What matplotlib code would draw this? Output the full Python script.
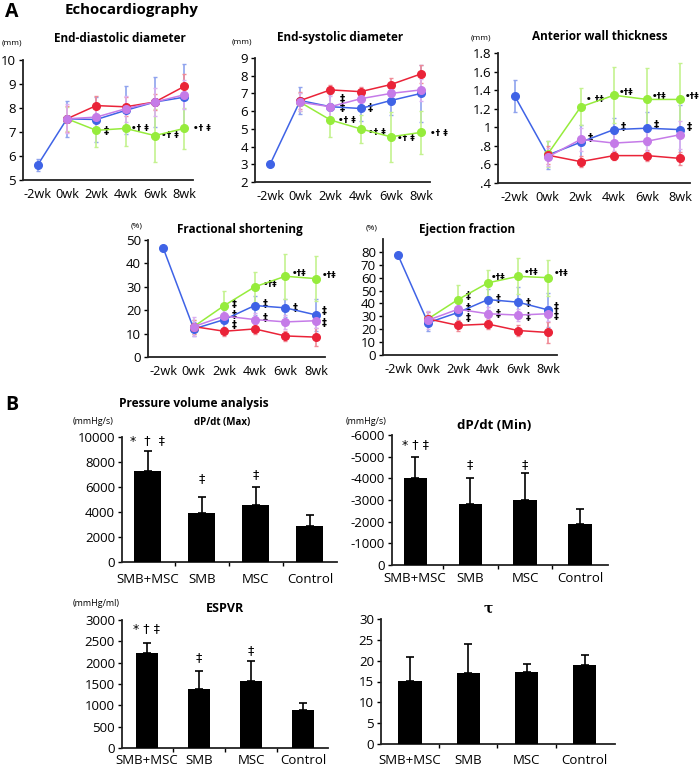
import matplotlib
matplotlib.use("Agg")
import matplotlib.pyplot as plt
import numpy as np

plt.rcParams['font.family'] = ['Open Sans', 'DejaVu Sans']

weeks = ["-2wk", "0wk", "2wk", "4wk", "6wk", "8wk"]
groups = ["SMB+MSC", "SMB", "MSC", "Control"]

# Echo series: blue, red, pink, green (None = no point)
edd_blue = [5.62, 7.55, 7.52, 7.9, 8.25, 8.45]
edd_blue_err = [0.25, 0.75, 0.95, 1.0, 1.05, 1.4]
edd_red = [None, 7.55, 8.1, 8.05, 8.25, 8.9]
edd_red_err = [0, 0.55, 0.4, 0.4, 0.35, 0.5]
edd_pink = [None, 7.55, 7.62, 7.97, 8.25, 8.55]
edd_pink_err = [0, 0.6, 0.6, 0.55, 0.6, 0.6]
edd_green = [None, 7.55, 7.07, 7.15, 6.85, 7.15]
edd_green_err = [0, 0.5, 0.7, 0.75, 1.1, 0.85]

esd_blue = [3.0, 6.6, 6.25, 6.15, 6.6, 7.0]
esd_blue_err = [0, 0.75, 0.7, 0.7, 0.8, 1.6]
esd_red = [None, 6.6, 7.2, 7.1, 7.5, 8.1]
esd_red_err = [0, 0.5, 0.25, 0.25, 0.35, 0.5]
esd_pink = [None, 6.5, 6.25, 6.7, 7.0, 7.2]
esd_pink_err = [0, 0.5, 0.6, 0.55, 0.6, 0.6]
esd_green = [None, 6.5, 5.5, 5.0, 4.55, 4.8]
esd_green_err = [0, 0.5, 0.95, 0.8, 1.4, 1.2]

awt_blue = [1.34, 0.70, 0.84, 0.975, 0.99, 0.975]
awt_blue_err = [0.17, 0.15, 0.19, 0.12, 0.18, 0.27]
awt_red = [None, 0.70, 0.63, 0.695, 0.695, 0.665]
awt_red_err = [0, 0.1, 0.06, 0.05, 0.06, 0.07]
awt_pink = [None, 0.68, 0.87, 0.83, 0.85, 0.92]
awt_pink_err = [0, 0.1, 0.12, 0.1, 0.1, 0.15]
awt_green = [None, 0.71, 1.22, 1.345, 1.30, 1.30]
awt_green_err = [0, 0.14, 0.2, 0.3, 0.34, 0.39]

fs_blue = [46.5, 12, 16, 22, 21, 18]
fs_blue_err = [0, 3, 4, 4, 4, 7]
fs_red = [None, 13, 11, 12, 9, 8.5]
fs_red_err = [0, 3, 2, 2, 2, 4]
fs_pink = [None, 13, 17.5, 16, 15, 15.5]
fs_pink_err = [0, 4, 3, 3, 3, 3]
fs_green = [None, 13, 22, 30, 34.5, 33.5]
fs_green_err = [0, 3, 6, 6.5, 9.5, 9.5]

ef_blue = [77.5, 25, 33, 43, 41, 35]
ef_blue_err = [0, 6, 7, 8, 12, 13]
ef_red = [None, 28, 23, 24, 19, 17.5]
ef_red_err = [0, 5, 4, 4, 4, 8]
ef_pink = [None, 27, 35.5, 32, 31, 32]
ef_pink_err = [0, 7, 5, 5, 5, 6]
ef_green = [None, 28, 43, 56, 61, 60]
ef_green_err = [0, 5, 11, 10, 14, 14]

# Pressure-volume bars
dpmax = [7300, 3950, 4600, 2850]
dpmax_err = [1550, 1250, 1400, 950]
dpmin = [4020, 2800, 3020, 1900]
dpmin_err = [980, 1200, 1210, 700]
espvr = [2220, 1380, 1580, 880]
espvr_err = [250, 430, 460, 170]
tau = [15.2, 17.0, 17.2, 18.9]
tau_err = [5.8, 7.0, 2.0, 2.4]

C_BLUE = "#3f63e6"
C_RED = "#ea2338"
C_PINK = "#c57be8"
C_GREEN = "#96ec3c"
E_BLUE = "#8fa3ee"
E_RED = "#f08a96"
E_PINK = "#dbb0f0"
E_GREEN = "#c4f28f"

fig = plt.figure(figsize=(7.0, 7.7), dpi=100)
W, H = 700.0, 770.0


def ax_px(l, t, r, b):
    return fig.add_axes([l / W, (H - b) / H, (r - l) / W, (b - t) / H])


def ftext(x, y, s, **kw):
    fig.text(x / W, 1 - y / H, s, **kw)


def style(ax):
    for s in ["top", "right"]:
        ax.spines[s].set_visible(False)
    for s in ["left", "bottom"]:
        ax.spines[s].set_linewidth(1.3)
        ax.spines[s].set_color("#222222")
    ax.tick_params(axis="y", length=3, width=1, labelsize=9.5, pad=2)


def line_panel(ax, series, ylim, yticks, yticklabels):
    x = np.arange(len(weeks))
    for vals, errs, c, ec in series:
        xs = [xi for xi, v in zip(x, vals) if v is not None]
        vs = [v for v in vals if v is not None]
        es = [e for v, e in zip(vals, errs) if v is not None]
        ax.errorbar(xs, vs, yerr=es, color=c, ecolor=ec, elinewidth=1.2,
                    capsize=1.5, capthick=1, marker="o", markersize=5.5,
                    linewidth=1.1, zorder=3)
    ax.set_xlim(-0.5, 5.3)
    ax.set_ylim(*ylim)
    ax.set_yticks(yticks)
    ax.set_yticklabels(yticklabels)
    ax.set_xticks(x)
    ax.set_xticklabels(weeks)
    ax.tick_params(axis="x", length=0, labelsize=9.2, pad=6)
    style(ax)


def ann(ax, x, y, s, fs=7.5):
    ax.text(x, y, s, fontsize=fs, fontweight="bold", ha="left", va="center",
            clip_on=False, family=['DejaVu Sans'])


# ---- A1 End-diastolic diameter
a1 = ax_px(23, 60, 193, 180)
line_panel(a1, [(edd_blue, edd_blue_err, C_BLUE, E_BLUE),
                (edd_green, edd_green_err, C_GREEN, E_GREEN),
                (edd_red, edd_red_err, C_RED, E_RED),
                (edd_pink, edd_pink_err, C_PINK, E_PINK)],
           (5, 10), range(5, 11), [str(v) for v in range(5, 11)])
ann(a1, 2.25, 7.05, "‡")
ann(a1, 3.2, 7.15, "•† ‡", 6.5)
ann(a1, 4.2, 6.85, "•† ‡", 6.5)
ann(a1, 5.3, 7.15, "•† ‡", 6.5)

# ---- A2 End-systolic diameter
a2 = ax_px(255, 58, 430, 182)
line_panel(a2, [(esd_blue, esd_blue_err, C_BLUE, E_BLUE),
                (esd_green, esd_green_err, C_GREEN, E_GREEN),
                (esd_red, esd_red_err, C_RED, E_RED),
                (esd_pink, esd_pink_err, C_PINK, E_PINK)],
           (2, 9), range(2, 10), [str(v) for v in range(2, 10)])
ann(a2, 2.3, 6.7, "‡")
ann(a2, 2.3, 6.15, "‡")
ann(a2, 3.25, 6.15, "‡")
ann(a2, 2.25, 5.45, "•† ‡", 6.5)
ann(a2, 3.25, 4.8, "•† ‡", 6.5)
ann(a2, 4.2, 4.45, "•† ‡", 6.5)
ann(a2, 5.3, 4.75, "•† ‡", 6.5)

# ---- A3 Anterior wall thickness
a3 = ax_px(498, 53, 690, 183)
line_panel(a3, [(awt_blue, awt_blue_err, C_BLUE, E_BLUE),
                (awt_green, awt_green_err, C_GREEN, E_GREEN),
                (awt_red, awt_red_err, C_RED, E_RED),
                (awt_pink, awt_pink_err, C_PINK, E_PINK)],
           (0.4, 1.8), np.arange(0.4, 1.81, 0.2),
           [".4", ".6", ".8", "1", "1.2", "1.4", "1.6", "1.8"])
ann(a3, 2.15, 1.30, "• †‡", 6.5)
ann(a3, 3.15, 1.38, "•†‡", 6.5)
ann(a3, 4.15, 1.33, "•†‡", 6.5)
ann(a3, 5.15, 1.33, "•†‡", 6.5)
ann(a3, 2.2, 0.89, "‡")
ann(a3, 3.2, 1.0, "‡")
ann(a3, 4.2, 1.03, "‡")
ann(a3, 5.2, 1.0, "‡")

# ---- A4 Fractional shortening
a4 = ax_px(148, 240, 325, 357)
line_panel(a4, [(fs_blue, fs_blue_err, C_BLUE, E_BLUE),
                (fs_green, fs_green_err, C_GREEN, E_GREEN),
                (fs_red, fs_red_err, C_RED, E_RED),
                (fs_pink, fs_pink_err, C_PINK, E_PINK)],
           (0, 50), range(0, 51, 10), [str(v) for v in range(0, 51, 10)])
for yv in (22.5, 18, 13.5):
    ann(a4, 2.25, yv, "‡", 7)
ann(a4, 3.25, 31, "•†‡", 6.5)
ann(a4, 3.25, 22.5, "‡", 7)
ann(a4, 3.25, 16.5, "‡", 7)
ann(a4, 4.2, 35.5, "•†‡", 6.5)
ann(a4, 4.25, 21, "‡", 7)
ann(a4, 5.2, 35, "•†‡", 6.5)
ann(a4, 5.2, 19.5, "‡", 7)
ann(a4, 5.2, 14.5, "‡", 7)

# ---- A5 Ejection fraction
a5 = ax_px(383, 239, 557, 355)
line_panel(a5, [(ef_blue, ef_blue_err, C_BLUE, E_BLUE),
                (ef_green, ef_green_err, C_GREEN, E_GREEN),
                (ef_red, ef_red_err, C_RED, E_RED),
                (ef_pink, ef_pink_err, C_PINK, E_PINK)],
           (0, 90), range(0, 81, 10), [str(v) for v in range(0, 81, 10)])
ann(a5, 2.25, 46, "‡", 7)
ann(a5, 2.25, 36.5, "‡", 7)
ann(a5, 2.25, 29, "‡", 7)
ann(a5, 3.1, 60, "•†‡", 6.5)
ann(a5, 3.25, 43.5, "‡", 7)
ann(a5, 3.25, 32, "‡", 7)
ann(a5, 4.2, 64, "•†‡", 6.5)
ann(a5, 4.25, 40.5, "‡", 7)
ann(a5, 4.25, 29.5, "‡", 7)
ann(a5, 5.2, 63, "•†‡", 6.5)
ann(a5, 5.2, 37.5, "‡", 7)
ann(a5, 5.2, 30, "‡", 7)


# ---- Bars
def bar_panel(ax, vals, errs, ylim, yticks, yticklabels, width, xlim, pad):
    x = np.arange(len(groups))
    ax.bar(x, vals, width=width, color="black", zorder=3)
    ax.errorbar(x, vals, yerr=[np.zeros(len(vals)), errs], fmt="none",
                ecolor="black", elinewidth=1.2, capsize=3, capthick=1.2,
                zorder=2)
    ax.set_xlim(*xlim)
    ax.set_ylim(*ylim)
    ax.set_yticks(yticks)
    ax.set_yticklabels(yticklabels)
    ax.set_xticks(x)
    ax.set_xticklabels(groups)
    ax.tick_params(axis="x", length=0, labelsize=9.5, pad=pad)
    ax.set_xticks([0.5, 1.5, 2.5], minor=True)
    ax.tick_params(axis="x", which="minor", length=3, width=1, direction="out")
    style(ax)


def bann(ax, x, y, s, fs=9):
    ax.text(x, y, s, fontsize=fs, ha="center", va="center", clip_on=False,
            family=['DejaVu Sans'])


b1 = ax_px(122, 437, 337, 562)
bar_panel(b1, dpmax, dpmax_err, (0, 10000), range(0, 10001, 2000),
          [str(v) for v in range(0, 10001, 2000)], 0.5, (-0.48, 3.5), 8)
bann(b1, 0, 9750, "*  †  ‡")
bann(b1, 1, 6700, "‡")
bann(b1, 2, 7000, "‡")

b2 = ax_px(392, 435, 608, 565)
bar_panel(b2, dpmin, dpmin_err, (0, 6000), range(0, 6001, 1000),
          ["0"] + ["-" + str(v) for v in range(1000, 6001, 1000)], 0.42,
          (-0.42, 3.51), 5)
bann(b2, 0, 5580, "* † ‡")
bann(b2, 1, 4640, "‡")
bann(b2, 2, 4640, "‡")

b3 = ax_px(122, 620, 328, 748)
bar_panel(b3, espvr, espvr_err, (0, 3000), range(0, 3001, 500),
          [str(v) for v in range(0, 3001, 500)], 0.42, (-0.48, 3.48), 4)
bann(b3, 0, 2800, "* † ‡")
bann(b3, 1, 2130, "‡")
bann(b3, 2, 2290, "‡")

b4 = ax_px(381, 619, 615, 744)
bar_panel(b4, tau, tau_err, (0, 30), range(0, 31, 5),
          [str(v) for v in range(0, 31, 5)], 0.4, (-0.5, 3.52), 7)

# ---- figure texts
ftext(5, 12, "A", fontsize=14, fontweight="bold", va="center")
ftext(65, 10, "Echocardiography", fontsize=10.8, fontweight="bold", va="center")
ftext(5, 405, "B", fontsize=14, fontweight="bold", va="center")
ftext(119, 403, "Pressure volume analysis", fontsize=8.6, fontweight="bold", va="center")

ftext(120, 38, "End-diastolic diameter", fontsize=8.5, fontweight="bold", ha="center", va="center")
ftext(340, 37, "End-systolic diameter", fontsize=8.5, fontweight="bold", ha="center", va="center")
ftext(600, 37, "Anterior wall thickness", fontsize=8.5, fontweight="bold", ha="center", va="center")
ftext(240, 230, "Fractional shortening", fontsize=8.5, fontweight="bold", ha="center", va="center")
ftext(467, 230, "Ejection fraction", fontsize=8.5, fontweight="bold", ha="center", va="center")
ftext(222, 423, "dP/dt (Max)", fontsize=7, fontweight="bold", ha="center", va="center")
ftext(494, 426, "dP/dt (Min)", fontsize=9.5, fontweight="bold", ha="center", va="center")
ftext(225, 609, "ESPVR", fontsize=9, fontweight="bold", ha="center", va="center")
ftext(488, 609, "τ", fontsize=10, fontweight="bold", ha="center", va="center",
      family=['DejaVu Serif'])

ftext(2, 43, "(mm)", fontsize=6, va="center")
ftext(232, 42, "(mm)", fontsize=6, va="center")
ftext(471, 38, "(mm)", fontsize=6, va="center")
ftext(131, 226, "(%)", fontsize=6, va="center")
ftext(366, 228, "(%)", fontsize=6, va="center")
ftext(73, 422, "(mmHg/s)", fontsize=6.5, va="center")
ftext(346, 422, "(mmHg/s)", fontsize=6.5, va="center")
ftext(73, 604, "(mmHg/ml)", fontsize=6.5, va="center")

fig.savefig("out.png", dpi=100)
